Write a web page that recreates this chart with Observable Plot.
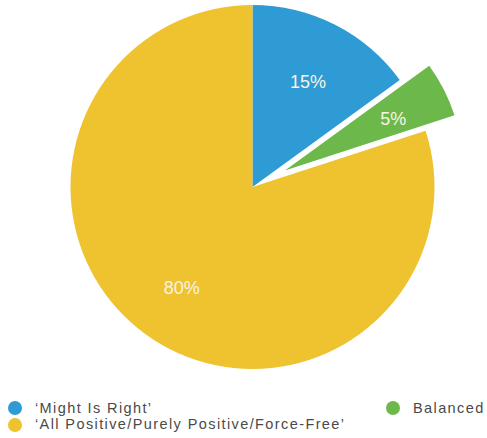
<!DOCTYPE html>
<html>
<head>
<meta charset="utf-8">
<script src="https://cdn.jsdelivr.net/npm/d3@7"></script>
<script src="https://cdn.jsdelivr.net/npm/@observablehq/plot@0.6"></script>
<style>
  html, body { margin: 0; padding: 0; background: #fff; }
  #chart { width: 487px; position: relative; }
  .legend { position: relative; width: 487px; height: 43px; font-family: "Liberation Sans", Arial, Helvetica, sans-serif; font-size: 14.5px; letter-spacing: 1.4px; color: #4a4a4a; }
  .item { position: absolute; white-space: nowrap; line-height: 16.3px; }
  .sw { position: absolute; width: 14px; height: 14px; border-radius: 50%; }
</style>
</head>
<body>
<div id="chart"></div>
<script>
const categories = ["‘Might Is Right’", "Balanced", "‘All Positive/Purely Positive/Force-Free’"];
const values = [15, 5, 80];
const sliceLabels = ["15%", "5%", "80%"];
const colors = ["#2e9bd5", "#6db84b", "#efc22f"];
const exploded = [false, true, false];

const W = 487, H = 395;
const cx = 252.5, cy = 187, R = 182;
const explodeFrac = 0.2, labelFrac = 0.665;

const pie = d3.pie().sort(null).value(d => d.value).startAngle(0).endAngle(2 * Math.PI);
const rows = categories.map((c, i) => ({category: c, value: values[i], label: sliceLabels[i], color: colors[i], exploded: exploded[i]}));
const arcs = pie(rows).map(a => {
  const mid = (a.startAngle + a.endAngle) / 2;
  const off = a.data.exploded ? explodeFrac : 0;
  const ox = Math.sin(mid) * off, oy = Math.cos(mid) * off; // data units (y up)
  return {...a, mid, ox, oy,
    lx: ox + Math.sin(mid) * labelFrac,
    ly: oy + Math.cos(mid) * labelFrac};
});

function slices(index, scales) {
  const x = scales.x, y = scales.y;
  const rpx = x(1) - x(0);
  const g = d3.create("svg:g");
  for (const a of arcs) {
    const arc = d3.arc().innerRadius(0).outerRadius(rpx * (a.data.exploded ? 0.98 : 1));
    g.append("path")
      .attr("d", arc(a))
      .attr("transform", `translate(${x(a.ox)},${y(a.oy)})`)
      .attr("fill", a.data.color);
  }
  return g.node();
}

const plot = Plot.plot({
  width: W, height: H,
  margin: 0,
  x: {domain: [-1, 1], range: [cx - R, cx + R], axis: null},
  y: {domain: [-1, 1], range: [cy + R, cy - R], axis: null},
  style: {background: "#fff"},
  marks: [
    slices,
    Plot.text(arcs, {x: "lx", y: "ly", dy: 3, text: d => d.data.label, fill: "#f8f3e4",
      fontSize: 18, fontFamily: "Liberation Sans, Arial, sans-serif", style: "letter-spacing:0.8px"})
  ]
});
document.getElementById("chart").appendChild(plot);

// Legend
const legend = d3.select("#chart").append("div").attr("class", "legend");
const legendPos = [[0, 0], [378, 0], [0, 1]];
rows.forEach((r, i) => {
  const [lx, row] = legendPos[i];
  const top = 5 + row * 16.3;
  legend.append("div").attr("class", "sw")
    .style("left", (lx + 8) + "px").style("top", (top + 1.3) + "px")
    .style("background", r.color);
  legend.append("div").attr("class", "item")
    .style("left", (lx + 35) + "px").style("top", top + "px")
    .text(r.category);
});
</script>
</body>
</html>
